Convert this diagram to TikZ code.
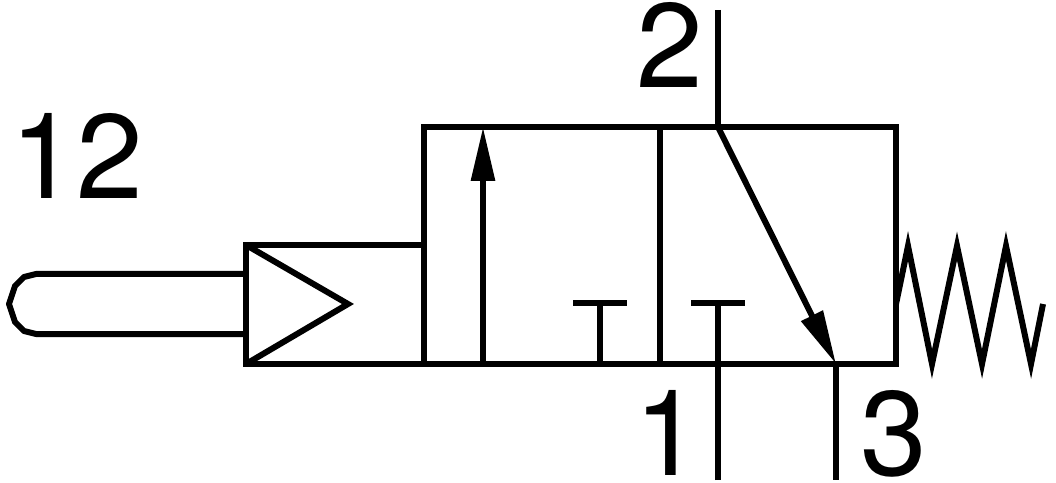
\documentclass[tikz,border=0pt]{standalone}
\usepackage{fontspec}
\setmainfont{TeX Gyre Heros}
\usetikzlibrary{arrows.meta}
\tikzset{
	pipe/.style={line width=6pt, miter limit=10},
	flow/.style={pipe, -{Triangle[length=54pt, width=23pt]}},
	port/.style={inner sep=0pt, font=\fontsize{120}{120}\selectfont}
}
\begin{document}
\begin{tikzpicture}[x=1pt, y=1pt]
	\useasboundingbox (0, 0) rectangle (1056, 482);
	% valve body
	\coordinate (sw) at (424, 118);
	\coordinate (nw) at (424, 355);
	\coordinate (ne) at (896, 355);
	\coordinate (se) at (896, 118);
	\coordinate (midtop) at (660, 355);
	\coordinate (midbot) at (660, 118);
	\draw[pipe] (sw) -- (nw) -- (ne) -- (se) -- cycle;
	\draw[pipe] (midtop) -- (midbot);
	% pilot
	\coordinate (pilotnw) at (246, 237);
	\coordinate (pilotsw) at (246, 118);
	\coordinate (pilotne) at (424, 237);
	\coordinate (pilottip) at (348, 178);
	\draw[pipe] (pilotne) -- (pilotnw) -- (pilotsw) -- (sw);
	\draw[pipe] (pilotnw) -- (pilottip) -- (pilotsw);
	% plunger
	\coordinate (plungertop) at (246, 208);
	\coordinate (plungerbot) at (246, 148);
	\draw[pipe, line join=round] (plungertop) -- (36, 208) -- (24, 205) -- (15, 196) -- (9, 178) -- (15, 160) -- (24, 151) -- (36, 148) -- (plungerbot);
	% left square
	\coordinate (arrowbot) at (483, 118);
	\coordinate (arrowtop) at (483, 355);
	\draw[flow] (arrowbot) -- (arrowtop);
	\coordinate (plugbot) at (600, 118);
	\coordinate (plugtop) at (600, 179);
	\coordinate (plugl) at (573, 179);
	\coordinate (plugr) at (627, 179);
	\draw[pipe] (plugbot) -- (plugtop);
	\draw[pipe] (plugl) -- (plugr);
	% right square
	\coordinate (in) at (718, 2);
	\coordinate (intop) at (718, 179);
	\coordinate (inl) at (691, 179);
	\coordinate (inr) at (745, 179);
	\draw[pipe] (in) -- (intop);
	\draw[pipe] (inl) -- (inr);
	\coordinate (out) at (718, 472);
	\coordinate (outbot) at (718, 355);
	\draw[pipe] (out) -- (outbot);
	\coordinate (ex) at (836, 118);
	\coordinate (exbot) at (836, 2);
	\draw[flow] (outbot) -- (ex);
	\draw[pipe] (ex) -- (exbot);
	% spring
	\coordinate (springa) at (896, 178);
	\coordinate (springb) at (1043, 178);
	\draw[pipe] (springa) -- (908, 236) -- (932, 118) -- (957, 236) -- (982, 118) -- (1006, 236) -- (1031, 118) -- (springb);
	% port numbers
	\node[port, anchor=base west] at (10, 283) (p12) {12};
	\node[port, anchor=base west] at (636, 394) (p2) {2};
	\node[port, anchor=base west] at (634, 7) (p1) {1};
	\node[port, anchor=base west] at (860, 7) (p3) {3};
\end{tikzpicture}
\end{document}
